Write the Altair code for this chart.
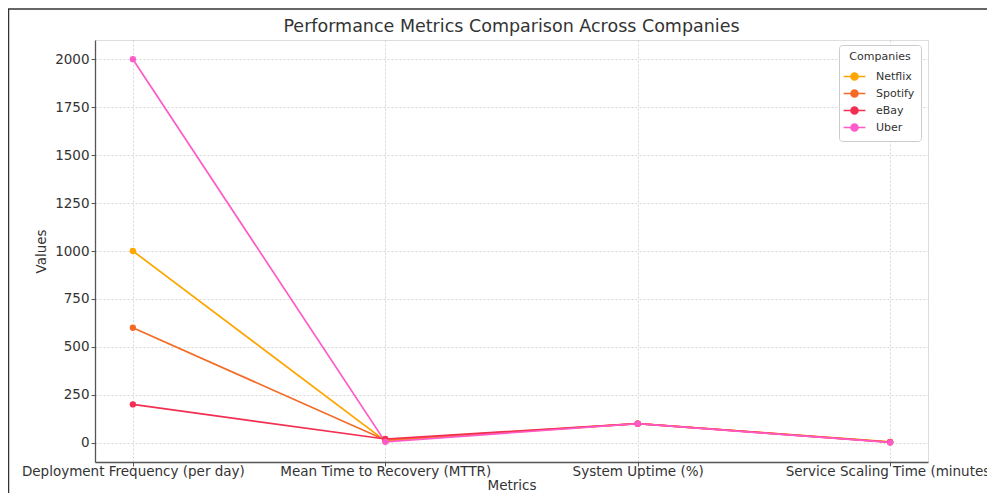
import altair as alt
import pandas as pd

metrics = ["Deployment Frequency (per day)", "Mean Time to Recovery (MTTR)",
           "System Uptime (%)", "Service Scaling Time (minutes)"]
companies = ["Netflix", "Spotify", "eBay", "Uber"]
netflix = [1000, 10, 99.99, 5]
spotify = [600, 15, 99.95, 4]
ebay = [200, 20, 99.9, 3]
uber = [2000, 5, 99.99, 2]
colors = ["#FFA500", "#F46A25", "#F22E52", "#FF5BC8"]
y_ticks = [0, 250, 500, 750, 1000, 1250, 1500, 1750, 2000]

series = {"Netflix": netflix, "Spotify": spotify, "eBay": ebay, "Uber": uber}
rows = []
for ci, c in enumerate(companies):
    for mi, m in enumerate(metrics):
        rows.append({"Metric": m, "Company": c, "Value": series[c][mi], "order": ci})
df = pd.DataFrame(rows)

FONT = "DejaVu Sans"

x_enc = alt.X("Metric:N", sort=metrics, title="Metrics",
              scale=alt.Scale(type="point", padding=0.15),
              axis=alt.Axis(labelAngle=0, labelFontSize=13.5, labelColor="#333", labelLimit=0,
                            titleFontSize=13.5, titleColor="#333", titleFontWeight="normal",
                            titlePadding=1, labelPadding=-2,
                            grid=True, gridColor="#cccccc", gridDash=[2, 2], gridWidth=0.8,
                            domainColor="#555", domainWidth=1.3, tickColor="#555",
                            tickSize=4, tickWidth=1, labelFont=FONT, titleFont=FONT))
y_enc = alt.Y("Value:Q", title="Values",
              scale=alt.Scale(domain=[-100, 2100], nice=False, zero=False),
              axis=alt.Axis(values=y_ticks, format="d", labelFontSize=13.5, labelColor="#333",
                            titleFontSize=13.5, titleColor="#333", titleFontWeight="normal",
                            titlePadding=6, labelPadding=2,
                            grid=True, gridColor="#cccccc", gridDash=[2, 2], gridWidth=0.8,
                            domainColor="#555", domainWidth=1.3, tickColor="#555",
                            tickSize=4, tickWidth=1, labelFont=FONT, titleFont=FONT))
color_enc = alt.Color("Company:N", sort=companies,
                      scale=alt.Scale(domain=companies, range=colors),
                      legend=alt.Legend(title="Companies", orient="none", legendX=744, legendY=5,
                                        titleFontSize=11, titleFontWeight="normal", titleColor="#333",
                                        labelFontSize=11, labelColor="#333", titleFont=FONT, labelFont=FONT,
                                        symbolType="M-1.3,0L1.3,0M0.42,0A0.42,0.42,0,1,1,-0.42,0A0.42,0.42,0,1,1,0.42,0",
                                        symbolSize=280, symbolStrokeWidth=1.6, labelOffset=12,
                                        rowPadding=0, padding=6, strokeColor="#cccccc",
                                        fillColor="white", cornerRadius=3, titlePadding=5,
                                        titleAnchor="middle"))

base = alt.Chart(df)
lines = base.mark_line(strokeWidth=1.7).encode(
    x=x_enc, y=y_enc, color=color_enc, detail="Company:N", order="order:Q")
points = base.mark_point(filled=True, size=40, opacity=1).encode(
    x=x_enc, y=y_enc, color=alt.Color("Company:N", scale=alt.Scale(domain=companies, range=colors), legend=None),
    order="order:Q")

frame_df = pd.DataFrame({"k": [0]})
frame_top = alt.Chart(frame_df).mark_rule(color="#333", strokeWidth=1.5).encode(
    x=alt.value(-88), x2=alt.value(1000), y=alt.value(-31))
frame_left = alt.Chart(frame_df).mark_rule(color="#333", strokeWidth=1.5).encode(
    x=alt.value(-86.5), y=alt.value(-31), y2=alt.value(480))

chart = alt.layer(frame_top, frame_left, lines, points).properties(
    width=833, height=422,
    title=alt.TitleParams("Performance Metrics Comparison Across Companies", fontSize=17.5,
                          font=FONT, fontWeight="normal", color="#333", anchor="middle",
                          frame="group", baseline="alphabetic", offset=-41),
    autosize=alt.AutoSizeParams(type="none"),
    padding={"left": 87, "top": 32, "right": 59, "bottom": 31},
).configure_view(stroke=None).configure(background="white")

chart.save("out.html", embed_options={"renderer": "svg", "actions": False})
